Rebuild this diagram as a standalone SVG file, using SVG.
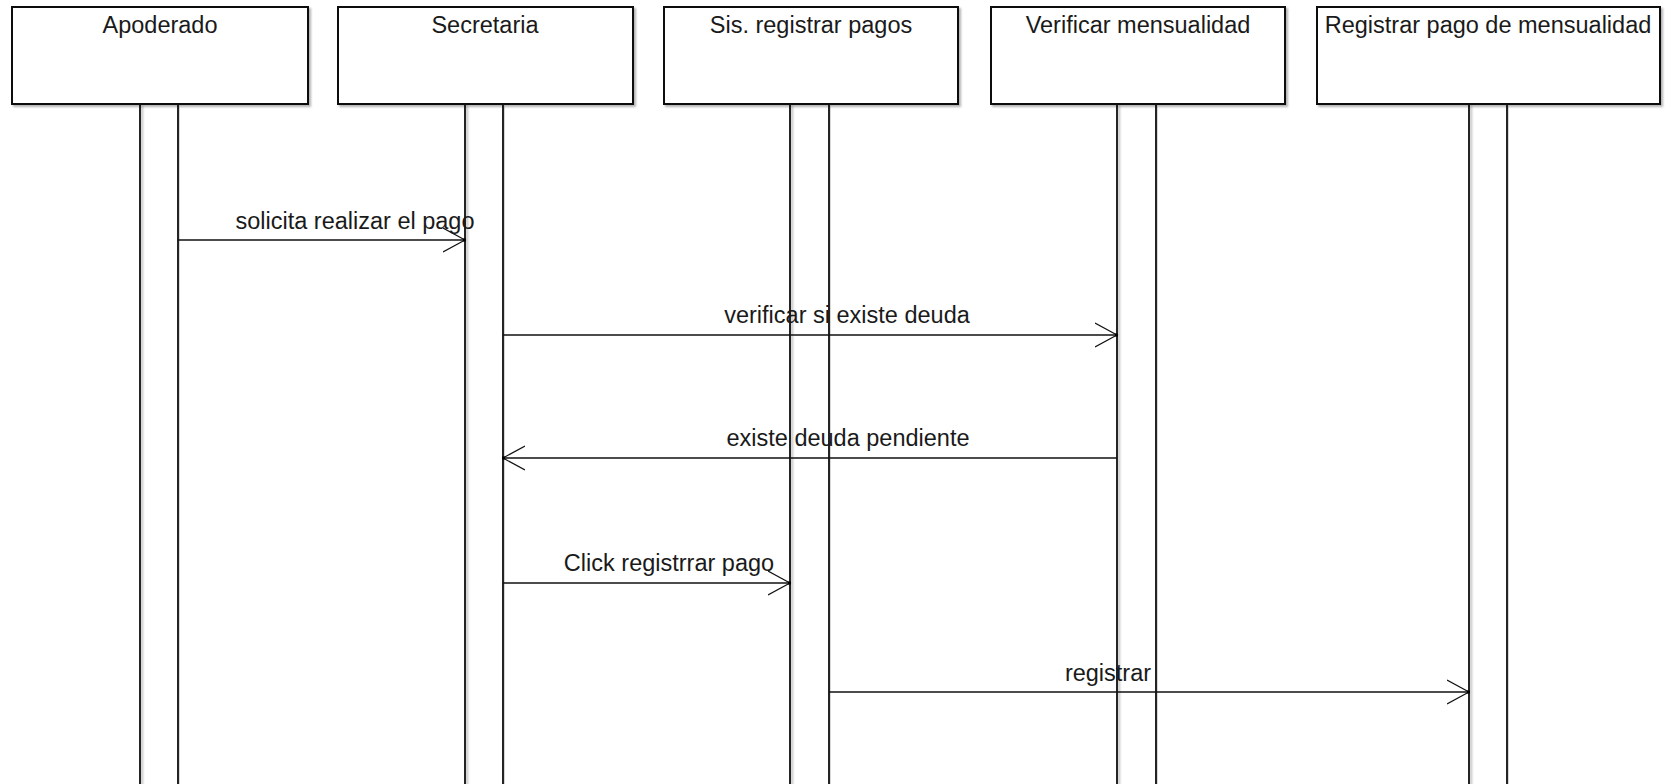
<svg xmlns="http://www.w3.org/2000/svg" width="1666" height="784" viewBox="0 0 1666 784">
  <defs>
    <filter id="shadow" x="-5%" y="-5%" width="110%" height="110%">
      <feDropShadow dx="2" dy="2" stdDeviation="1.2" flood-color="#000" flood-opacity="0.3"/>
    </filter>
    <marker id="open-arrow" viewBox="0 0 24 26" refX="22" refY="13" markerWidth="24" markerHeight="26" markerUnits="userSpaceOnUse" orient="auto">
      <path d="M0,1 L22,13 L0,25" fill="none" stroke="#111" stroke-width="1.2"/>
      <rect x="20" y="11.5" width="3" height="3" fill="#000"/>
    </marker>
  </defs>
  <style>
    .box { fill: #fff; stroke: #111; stroke-width: 2; filter: url(#shadow); }
    .life { fill: none; stroke: #111; stroke-width: 1.8; filter: url(#shadow); }
    .title { font-family: "Liberation Sans", Arial, sans-serif; font-size: 23.5px; fill: #1a1a1a; text-anchor: middle; }
    .msg { fill: none; stroke: #111; stroke-width: 1.6; marker-end: url(#open-arrow); }
    .label { font-family: "Liberation Sans", Arial, sans-serif; font-size: 23.5px; fill: #1a1a1a; text-anchor: middle; }
  </style>
  <rect width="1666" height="784" fill="#fff"/>

  <!-- participants: header box plus activation bar -->
  <g id="apoderado">
    <rect class="box" x="12" y="7" width="296" height="97"/>
    <text class="title" x="160" y="33">Apoderado</text>
    <path class="life" d="M140,104 V790 M178,104 V790"/>
  </g>
  <g id="secretaria">
    <rect class="box" x="338" y="7" width="295" height="97"/>
    <text class="title" x="485" y="33">Secretaria</text>
    <path class="life" d="M465,104 V790 M503,104 V790"/>
  </g>
  <g id="sis-registrar-pagos">
    <rect class="box" x="664" y="7" width="294" height="97"/>
    <text class="title" x="811" y="33">Sis. registrar pagos</text>
    <path class="life" d="M790,104 V790 M829,104 V790"/>
  </g>
  <g id="verificar-mensualidad">
    <rect class="box" x="991" y="7" width="294" height="97"/>
    <text class="title" x="1138" y="33">Verificar mensualidad</text>
    <path class="life" d="M1117,104 V790 M1156,104 V790"/>
  </g>
  <g id="registrar-pago-mensualidad">
    <rect class="box" x="1317" y="7" width="343" height="97"/>
    <text class="title" x="1488" y="33">Registrar pago de mensualidad</text>
    <path class="life" d="M1469,104 V790 M1507,104 V790"/>
  </g>

  <!-- messages -->
  <g id="connectors">
    <line class="msg" x1="178" y1="240" x2="465" y2="240"/>
    <text class="label" x="355" y="229">solicita realizar el pago</text>

    <line class="msg" x1="503" y1="335" x2="1117" y2="335"/>
    <text class="label" x="847" y="323">verificar si existe deuda</text>

    <line class="msg" x1="1117" y1="458" x2="503" y2="458"/>
    <text class="label" x="848" y="446">existe deuda pendiente</text>

    <line class="msg" x1="503" y1="583" x2="790" y2="583"/>
    <text class="label" x="669" y="571">Click registrrar pago</text>

    <line class="msg" x1="829" y1="692" x2="1469" y2="692"/>
    <text class="label" x="1108" y="681">registrar</text>
  </g>
</svg>
